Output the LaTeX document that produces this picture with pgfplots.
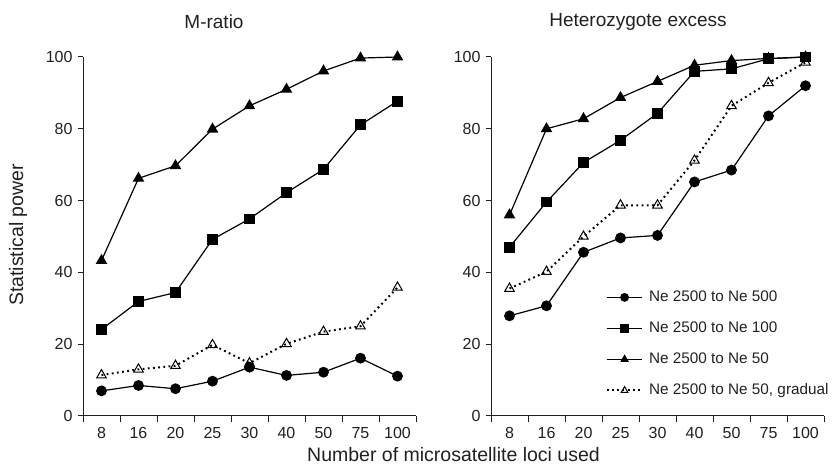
\documentclass[border=0pt]{standalone}
\usepackage{pgfplots}
\pgfplotsset{compat=1.18}
\usepackage{fontspec}
\setmainfont{Liberation Sans}
\definecolor{txt}{RGB}{35,31,32}
\pgfplotsset{
  myaxis/.style={
    scale only axis, width=333bp, height=359bp,
    xmin=-0.5, xmax=8.5, ymin=0, ymax=100,
    axis x line*=bottom, axis y line*=left,
    axis line style={line width=1bp, color=txt, -},
    xtick={0,...,8},
    xticklabels={8,16,20,25,30,40,50,75,100},
    major x tick style={draw=none},
    minor xtick={-0.5,0.5,...,8.5},
    minor x tick style={line width=1bp, color=txt},
    minor tick length=6bp,
    ytick={0,20,...,100},
    major y tick style={line width=1bp, color=txt},
    major tick length=5bp,
    tick align=outside,
    tick label style={font=\fontsize{16bp}{19bp}\selectfont, color=txt},
    /pgf/number format/assume math mode=true,
    xticklabel style={yshift=-3bp},
    yticklabel style={xshift=-2bp},
    clip=false,
    every axis plot/.append style={line width=1.2bp, color=black},
  },
  pA/.style={mark=*, mark size=4.8bp, mark options={solid}},
  pB/.style={mark=square*, mark size=4.8bp, mark options={solid}},
  pC/.style={mark=triangle*, mark size=5.5bp, mark options={solid}},
  pD/.style={densely dotted, dash pattern=on 1.8bp off 3.4bp, line width=2bp, mark=triangle, mark size=5.5bp, mark options={solid, fill=white, line width=1bp}},
}
\begin{document}
\begin{tikzpicture}
\useasboundingbox (-83bp,-53bp) rectangle (752bp,416bp);
\begin{axis}[myaxis, at={(0,0)}, anchor=south west]
\addplot[pA] coordinates {(0,7.0)(1,8.5)(2,7.6)(3,9.7)(4,13.6)(5,11.3)(6,12.2)(7,16.1)(8,11.1)};
\addplot[pB] coordinates {(0,24.1)(1,31.9)(2,34.4)(3,49.2)(4,54.9)(5,62.2)(6,68.7)(7,81.1)(8,87.7)};
\addplot[pC] coordinates {(0,43.3)(1,66.2)(2,69.7)(3,79.9)(4,86.4)(5,91.0)(6,96.1)(7,99.7)(8,100)};
\addplot[pD] coordinates {(0,11.4)(1,13.0)(2,14.0)(3,19.8)(4,14.7)(5,20.1)(6,23.5)(7,25.0)(8,35.8)};
\end{axis}
\begin{axis}[myaxis, at={(408bp,0)}, anchor=south west,
  legend style={draw=none, fill=none, at={(rel axis cs:0.336,0.356)}, anchor=north west,
    font=\fontsize{15.3bp}{18bp}\selectfont, text=txt,
    nodes={inner sep=0pt, text height=11bp, text depth=3bp},
    row sep=17bp, column sep=6bp},
  legend cell align=left,
  legend image code/.code={\draw[#1] plot coordinates {(0bp,0bp)(17.5bp,0bp)(35bp,0bp)};},
  legend image post style={mark repeat=2, mark phase=2, mark size=3.8bp},
]
\addplot[pA] coordinates {(0,27.9)(1,30.7)(2,45.6)(3,49.6)(4,50.3)(5,65.2)(6,68.5)(7,83.6)(8,92.0)};
\addplot[pB] coordinates {(0,47.0)(1,59.6)(2,70.6)(3,76.8)(4,84.3)(5,96.0)(6,96.7)(7,99.5)(8,100)};
\addplot[pC] coordinates {(0,56.0)(1,80.0)(2,82.8)(3,88.7)(4,93.2)(5,97.7)(6,99.0)(7,99.6)(8,100)};
\addplot[pD] coordinates {(0,35.5)(1,40.2)(2,50.0)(3,58.7)(4,58.7)(5,71.2)(6,86.4)(7,92.8)(8,98.5)};
\legend{Ne 2500 to Ne 500, Ne 2500 to Ne 100, Ne 2500 to Ne 50, {Ne 2500 to Ne 50, gradual}}
\end{axis}
\node[font=\fontsize{19bp}{22bp}\selectfont, text=txt] at (131bp,394bp) {M-ratio};
\node[font=\fontsize{19bp}{22bp}\selectfont, text=txt] at (555bp,394bp) {Heterozygote excess};
\node[font=\fontsize{19.5bp}{22bp}\selectfont, text=txt] at (370.5bp,-39bp) {Number of microsatellite loci used};
\node[font=\fontsize{19.5bp}{22bp}\selectfont, text=txt, rotate=90] at (-65bp,181bp) {Statistical power};
\end{tikzpicture}
\end{document}
